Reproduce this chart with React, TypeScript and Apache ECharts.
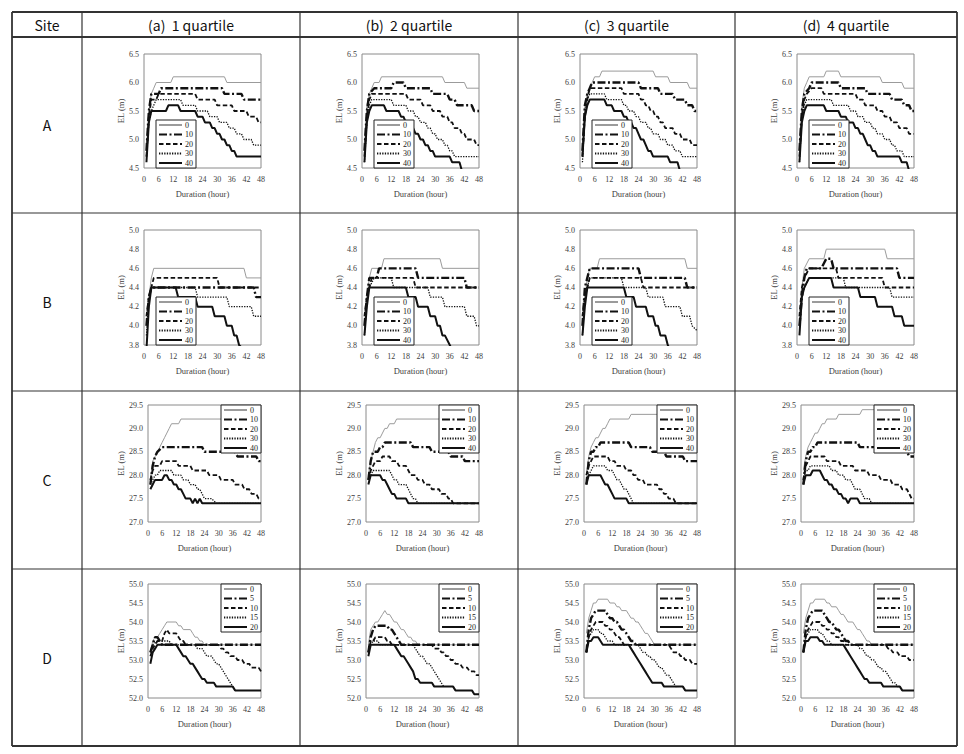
import React, { useEffect, useRef } from 'react';
import * as echarts from 'echarts';

type Pt = [number, number];

// ---- table text ----
const sites = ['A', 'B', 'C', 'D'];
const quartileTitles = ['(a)  1 quartile', '(b)  2 quartile', '(c)  3 quartile', '(d)  4 quartile'];
const levelsABC = ['0', '10', '20', '30', '40'];
const levelsD = ['0', '5', '10', '15', '20'];

// ---- axes ----
const hourMin = 0;
const hourMax = 48;
const hourStep = 6;
const elMin = [4.5, 3.8, 27.0, 52.0];
const elMax = [6.5, 5.0, 29.5, 55.0];
const elStep = [0.5, 0.2, 0.5, 0.5];

// ---- water level series (hour, EL m); five levels per panel ----
const A_q1: Pt[][] = [
  [[1, 4.9], [2, 5.5], [3, 5.8], [4, 5.9], [5, 6.0], [11, 6.0], [12, 6.1], [33, 6.1], [34, 6.0], [48, 6.0]],
  [[1, 4.8], [2, 5.5], [3, 5.8], [6, 5.8], [7, 5.9], [32, 5.9], [33, 5.8], [40, 5.8], [41, 5.7], [48, 5.7]],
  [[1, 4.7], [2, 5.4], [3, 5.7], [5, 5.7], [6, 5.8], [21, 5.8], [22, 5.7], [29, 5.7], [30, 5.6], [36, 5.6], [37, 5.5], [42, 5.5], [43, 5.4], [46, 5.4], [47, 5.3], [48, 5.3]],
  [[1, 4.7], [2, 5.3], [3, 5.5], [4, 5.6], [5, 5.7], [15, 5.7], [16, 5.6], [21, 5.6], [22, 5.5], [26, 5.5], [27, 5.4], [30, 5.4], [31, 5.3], [34, 5.3], [35, 5.2], [37, 5.2], [38, 5.1], [40, 5.1], [41, 5.0], [44, 5.0], [45, 4.9], [48, 4.9]],
  [[1, 4.6], [2, 5.3], [3, 5.5], [9, 5.5], [10, 5.6], [14, 5.6], [15, 5.5], [21, 5.5], [22, 5.4], [24, 5.4], [25, 5.3], [27, 5.3], [28, 5.2], [29, 5.2], [30, 5.1], [31, 5.1], [32, 5.0], [33, 5.0], [34, 4.9], [35, 4.9], [36, 4.8], [37, 4.8], [38, 4.7], [48, 4.7]],
];
const A_q2: Pt[][] = [
  [[1, 4.9], [2, 5.6], [3, 5.8], [4, 5.9], [5, 6.0], [7, 6.0], [8, 6.1], [33, 6.1], [34, 6.0], [42, 6.0], [43, 5.9], [48, 5.9]],
  [[1, 4.8], [2, 5.5], [3, 5.8], [5, 5.9], [12, 5.9], [13, 6.0], [17, 6.0], [18, 5.9], [28, 5.9], [29, 5.8], [35, 5.8], [36, 5.7], [38, 5.7], [39, 5.6], [45, 5.6], [46, 5.5], [48, 5.5]],
  [[1, 4.7], [2, 5.4], [3, 5.7], [4, 5.8], [18, 5.8], [19, 5.7], [24, 5.7], [25, 5.6], [28, 5.6], [29, 5.5], [32, 5.5], [33, 5.4], [35, 5.4], [36, 5.3], [37, 5.3], [38, 5.2], [40, 5.2], [41, 5.1], [42, 5.1], [43, 5.0], [46, 5.0], [47, 4.9], [48, 4.9]],
  [[1, 4.6], [2, 5.3], [3, 5.6], [4, 5.7], [12, 5.7], [13, 5.6], [18, 5.6], [19, 5.5], [21, 5.5], [22, 5.4], [23, 5.4], [24, 5.3], [26, 5.3], [27, 5.2], [28, 5.2], [29, 5.1], [30, 5.1], [31, 5.0], [33, 5.0], [34, 4.9], [35, 4.9], [36, 4.8], [37, 4.8], [38, 4.7], [48, 4.7]],
  [[1, 4.6], [2, 5.3], [3, 5.5], [4, 5.6], [9, 5.6], [10, 5.5], [15, 5.5], [16, 5.4], [17, 5.4], [18, 5.3], [19, 5.3], [20, 5.2], [21, 5.2], [22, 5.1], [23, 5.1], [24, 5.0], [25, 5.0], [26, 4.9], [27, 4.9], [28, 4.8], [29, 4.8], [30, 4.7], [36, 4.7], [37, 4.6], [40, 4.6], [41, 4.45]],
];
const A_q3: Pt[][] = [
  [[1, 4.9], [2, 5.6], [3, 5.8], [4, 5.9], [5, 6.0], [6, 6.1], [8, 6.1], [9, 6.2], [30, 6.2], [31, 6.1], [36, 6.1], [37, 6.0], [44, 6.0], [45, 5.9], [48, 5.9]],
  [[1, 4.8], [2, 5.6], [3, 5.8], [4, 5.9], [5, 6.0], [24, 6.0], [25, 5.9], [32, 5.9], [33, 5.8], [38, 5.8], [39, 5.7], [43, 5.7], [44, 5.6], [46, 5.6], [47, 5.5], [48, 5.5]],
  [[1, 4.7], [2, 5.4], [3, 5.7], [4, 5.9], [17, 5.9], [18, 5.8], [24, 5.8], [25, 5.7], [26, 5.7], [27, 5.6], [28, 5.6], [29, 5.5], [30, 5.5], [31, 5.4], [32, 5.4], [33, 5.3], [34, 5.3], [35, 5.2], [38, 5.2], [39, 5.1], [41, 5.1], [42, 5.0], [45, 5.0], [46, 4.9], [48, 4.9]],
  [[1, 4.6], [2, 5.4], [3, 5.7], [4, 5.8], [10, 5.8], [11, 5.7], [17, 5.7], [18, 5.6], [19, 5.6], [20, 5.5], [22, 5.5], [23, 5.4], [24, 5.4], [25, 5.3], [27, 5.3], [28, 5.2], [29, 5.2], [30, 5.1], [32, 5.1], [33, 5.0], [35, 5.0], [36, 4.9], [38, 4.9], [39, 4.8], [41, 4.8], [42, 4.7], [48, 4.7]],
  [[1, 4.7], [2, 5.4], [3, 5.6], [4, 5.7], [10, 5.7], [11, 5.6], [13, 5.6], [14, 5.5], [17, 5.5], [18, 5.4], [19, 5.4], [20, 5.3], [21, 5.3], [22, 5.2], [23, 5.2], [24, 5.1], [25, 5.0], [26, 5.0], [27, 4.9], [28, 4.8], [29, 4.8], [30, 4.7], [36, 4.7], [37, 4.6], [40, 4.6], [41, 4.45]],
];
const A_q4: Pt[][] = [
  [[1, 4.9], [2, 5.6], [3, 5.9], [4, 6.0], [5, 6.1], [11, 6.1], [12, 6.2], [17, 6.2], [18, 6.1], [34, 6.1], [35, 6.0], [43, 6.0], [44, 5.9], [48, 5.9]],
  [[1, 4.8], [2, 5.5], [3, 5.8], [5, 5.9], [6, 6.0], [17, 6.0], [18, 5.9], [28, 5.9], [29, 5.8], [38, 5.8], [39, 5.7], [43, 5.7], [44, 5.6], [46, 5.6], [47, 5.5], [48, 5.5]],
  [[1, 4.7], [2, 5.4], [3, 5.7], [4, 5.8], [6, 5.9], [10, 5.9], [11, 5.8], [24, 5.8], [25, 5.7], [27, 5.7], [28, 5.6], [32, 5.6], [33, 5.5], [35, 5.5], [36, 5.4], [38, 5.4], [39, 5.3], [41, 5.3], [42, 5.2], [45, 5.2], [46, 5.1], [48, 5.1]],
  [[1, 4.6], [2, 5.4], [3, 5.6], [4, 5.7], [14, 5.7], [15, 5.6], [21, 5.6], [22, 5.5], [24, 5.5], [25, 5.4], [27, 5.4], [28, 5.3], [30, 5.3], [31, 5.2], [32, 5.2], [33, 5.1], [35, 5.1], [36, 5.0], [38, 5.0], [39, 4.9], [40, 4.9], [41, 4.8], [43, 4.8], [44, 4.7], [48, 4.7]],
  [[1, 4.6], [2, 5.3], [3, 5.5], [4, 5.6], [11, 5.6], [12, 5.5], [17, 5.5], [18, 5.4], [20, 5.4], [21, 5.3], [23, 5.3], [24, 5.2], [25, 5.2], [26, 5.1], [27, 5.1], [28, 5.0], [29, 4.9], [30, 4.9], [31, 4.8], [32, 4.8], [33, 4.7], [42, 4.7], [43, 4.6], [45, 4.6], [46, 4.45]],
];

const B_q1: Pt[][] = [
  [[1, 4.1], [2, 4.3], [3, 4.5], [4, 4.6], [41, 4.6], [42, 4.5], [48, 4.5]],
  [[1, 4.0], [2, 4.3], [3, 4.4], [45, 4.4], [46, 4.3], [48, 4.3]],
  [[1, 4.1], [2, 4.3], [3, 4.4], [4, 4.5], [30, 4.5], [31, 4.4], [48, 4.4]],
  [[1, 3.9], [2, 4.3], [3, 4.4], [21, 4.4], [22, 4.3], [34, 4.3], [35, 4.2], [44, 4.2], [45, 4.1], [48, 4.1]],
  [[1, 3.75], [2, 4.2], [3, 4.4], [13, 4.4], [14, 4.3], [21, 4.3], [22, 4.2], [28, 4.2], [29, 4.1], [33, 4.1], [34, 4.0], [36, 4.0], [37, 3.9], [38, 3.9], [39, 3.8], [41, 3.75]],
];
const B_q2: Pt[][] = [
  [[1, 4.1], [2, 4.3], [3, 4.5], [4, 4.6], [8, 4.6], [9, 4.7], [32, 4.7], [33, 4.6], [48, 4.6]],
  [[1, 4.0], [2, 4.3], [3, 4.5], [6, 4.5], [7, 4.6], [22, 4.6], [23, 4.5], [42, 4.5], [43, 4.4], [48, 4.4]],
  [[1, 4.1], [2, 4.3], [3, 4.4], [4, 4.5], [21, 4.5], [22, 4.4], [48, 4.4]],
  [[1, 3.9], [2, 4.3], [3, 4.4], [5, 4.5], [12, 4.5], [13, 4.4], [27, 4.4], [28, 4.3], [33, 4.3], [34, 4.2], [42, 4.2], [43, 4.1], [46, 4.1], [47, 4.0], [48, 4.0]],
  [[1, 3.9], [2, 4.2], [3, 4.4], [18, 4.4], [19, 4.3], [22, 4.3], [23, 4.2], [27, 4.2], [28, 4.1], [30, 4.1], [31, 4.0], [32, 4.0], [33, 3.9], [34, 3.9], [36, 3.8], [37, 3.75]],
];
const B_q3: Pt[][] = [
  [[1, 4.1], [2, 4.3], [3, 4.5], [4, 4.6], [7, 4.6], [8, 4.7], [43, 4.7], [44, 4.6], [48, 4.6]],
  [[1, 4.0], [2, 4.4], [3, 4.5], [4, 4.6], [24, 4.6], [25, 4.5], [43, 4.5], [44, 4.4], [48, 4.4]],
  [[1, 4.1], [2, 4.3], [3, 4.4], [4, 4.5], [25, 4.5], [26, 4.4], [48, 4.4]],
  [[1, 3.9], [2, 4.3], [3, 4.4], [4, 4.5], [17, 4.5], [18, 4.4], [27, 4.4], [28, 4.3], [34, 4.3], [35, 4.2], [41, 4.2], [42, 4.1], [45, 4.1], [46, 4.0], [48, 3.95]],
  [[1, 3.9], [2, 4.2], [3, 4.4], [18, 4.4], [19, 4.3], [22, 4.3], [23, 4.2], [27, 4.2], [28, 4.1], [30, 4.1], [31, 4.0], [32, 4.0], [33, 3.9], [35, 3.9], [36, 3.8], [37, 3.75]],
];
const B_q4: Pt[][] = [
  [[1, 4.1], [2, 4.4], [3, 4.6], [5, 4.7], [11, 4.7], [12, 4.8], [36, 4.8], [37, 4.7], [48, 4.7]],
  [[1, 4.0], [2, 4.3], [3, 4.5], [4, 4.6], [10, 4.6], [12, 4.7], [14, 4.7], [15, 4.6], [41, 4.6], [42, 4.5], [48, 4.5]],
  [[1, 4.1], [2, 4.4], [3, 4.5], [5, 4.6], [16, 4.6], [17, 4.5], [35, 4.5], [36, 4.4], [48, 4.4]],
  [[1, 4.0], [2, 4.3], [3, 4.4], [5, 4.5], [19, 4.5], [20, 4.4], [38, 4.4], [39, 4.3], [48, 4.3]],
  [[1, 3.9], [2, 4.3], [3, 4.4], [5, 4.5], [14, 4.5], [15, 4.4], [25, 4.4], [26, 4.3], [32, 4.3], [33, 4.2], [39, 4.2], [40, 4.1], [43, 4.1], [44, 4.0], [48, 4.0]],
];

const C_q1: Pt[][] = [
  [[1, 27.9], [2, 28.3], [3, 28.4], [4, 28.5], [5, 28.6], [6, 28.7], [7, 28.8], [8, 28.9], [9, 29.0], [10, 29.1], [13, 29.1], [14, 29.2], [48, 29.2]],
  [[1, 27.8], [2, 28.2], [3, 28.4], [4, 28.5], [6, 28.6], [23, 28.6], [24, 28.5], [37, 28.5], [38, 28.4], [46, 28.4], [47, 28.3], [48, 28.3]],
  [[1, 27.9], [2, 28.1], [3, 28.2], [5, 28.2], [6, 28.3], [12, 28.3], [13, 28.2], [18, 28.2], [19, 28.1], [25, 28.1], [26, 28.0], [30, 28.0], [31, 27.9], [36, 27.9], [37, 27.8], [40, 27.8], [41, 27.7], [43, 27.7], [44, 27.6], [46, 27.6], [47, 27.5], [48, 27.5]],
  [[1, 27.8], [2, 27.9], [3, 28.0], [4, 28.0], [5, 28.1], [10, 28.1], [11, 28.0], [14, 28.0], [15, 27.9], [17, 27.9], [18, 27.8], [20, 27.8], [21, 27.7], [22, 27.7], [23, 27.6], [24, 27.5], [27, 27.5], [29, 27.4], [48, 27.4]],
  [[1, 27.7], [2, 27.8], [3, 27.9], [6, 27.9], [7, 28.0], [8, 28.0], [9, 27.9], [10, 27.9], [11, 27.8], [12, 27.8], [13, 27.7], [14, 27.7], [15, 27.6], [16, 27.5], [18, 27.5], [19, 27.4], [20, 27.5], [21, 27.4], [22, 27.5], [23, 27.4], [48, 27.4]],
];
const C_q2: Pt[][] = [
  [[1, 28.0], [2, 28.3], [3, 28.5], [4, 28.7], [5, 28.8], [6, 28.8], [7, 28.9], [8, 29.0], [9, 29.0], [10, 29.1], [12, 29.1], [13, 29.2], [48, 29.2]],
  [[1, 27.9], [2, 28.3], [3, 28.5], [5, 28.5], [6, 28.6], [7, 28.6], [8, 28.7], [19, 28.7], [20, 28.6], [27, 28.6], [28, 28.5], [35, 28.5], [36, 28.4], [41, 28.4], [42, 28.3], [48, 28.3]],
  [[1, 27.9], [2, 28.1], [3, 28.2], [4, 28.3], [6, 28.3], [7, 28.4], [10, 28.4], [11, 28.3], [13, 28.3], [14, 28.2], [17, 28.2], [18, 28.1], [19, 28.0], [21, 28.0], [22, 27.9], [24, 27.9], [25, 27.8], [27, 27.8], [28, 27.7], [31, 27.7], [32, 27.6], [34, 27.6], [35, 27.5], [36, 27.5], [37, 27.4], [48, 27.4]],
  [[1, 27.9], [2, 28.0], [3, 28.1], [10, 28.1], [11, 28.0], [12, 27.9], [13, 27.9], [14, 27.8], [17, 27.8], [18, 27.7], [19, 27.6], [20, 27.5], [21, 27.5], [22, 27.4], [48, 27.4]],
  [[1, 27.8], [2, 28.0], [6, 28.0], [7, 27.9], [8, 27.9], [9, 27.8], [10, 27.7], [11, 27.6], [12, 27.6], [13, 27.5], [17, 27.5], [18, 27.4], [48, 27.4]],
];
const C_q3: Pt[][] = [
  [[1, 28.0], [2, 28.4], [3, 28.6], [4, 28.7], [5, 28.8], [6, 28.8], [7, 28.9], [8, 29.0], [9, 29.0], [10, 29.1], [11, 29.2], [19, 29.2], [20, 29.3], [48, 29.3]],
  [[1, 27.8], [2, 28.3], [3, 28.5], [4, 28.5], [5, 28.6], [6, 28.6], [7, 28.7], [19, 28.7], [20, 28.6], [28, 28.6], [29, 28.5], [34, 28.5], [35, 28.4], [42, 28.4], [43, 28.3], [48, 28.3]],
  [[1, 28.0], [2, 28.2], [3, 28.3], [4, 28.4], [10, 28.4], [11, 28.3], [13, 28.3], [14, 28.2], [17, 28.2], [18, 28.1], [20, 28.1], [21, 28.0], [22, 28.0], [23, 27.9], [25, 27.9], [26, 27.8], [31, 27.8], [32, 27.7], [33, 27.7], [34, 27.6], [35, 27.6], [36, 27.5], [38, 27.5], [39, 27.4], [48, 27.4]],
  [[1, 27.9], [2, 28.0], [3, 28.1], [4, 28.2], [9, 28.2], [10, 28.1], [12, 28.1], [13, 28.0], [14, 27.9], [15, 27.9], [16, 27.8], [17, 27.7], [18, 27.7], [19, 27.6], [20, 27.5], [21, 27.4], [48, 27.4]],
  [[1, 27.8], [2, 28.0], [7, 28.0], [8, 27.9], [9, 27.8], [10, 27.8], [11, 27.7], [12, 27.6], [13, 27.5], [18, 27.5], [19, 27.4], [48, 27.4]],
];
const C_q4: Pt[][] = [
  [[1, 28.1], [2, 28.4], [3, 28.6], [4, 28.7], [5, 28.8], [6, 28.9], [7, 28.9], [8, 29.0], [9, 29.1], [10, 29.1], [11, 29.2], [15, 29.2], [16, 29.3], [25, 29.3], [26, 29.4], [48, 29.4]],
  [[1, 27.8], [2, 28.3], [3, 28.5], [4, 28.5], [5, 28.6], [6, 28.6], [7, 28.7], [24, 28.7], [25, 28.6], [35, 28.6], [36, 28.5], [45, 28.5], [46, 28.4], [48, 28.4]],
  [[1, 27.9], [2, 28.2], [3, 28.3], [4, 28.4], [10, 28.4], [11, 28.3], [16, 28.3], [17, 28.2], [22, 28.2], [23, 28.1], [28, 28.1], [29, 28.0], [33, 28.0], [34, 27.9], [38, 27.9], [39, 27.8], [42, 27.8], [43, 27.7], [45, 27.7], [46, 27.6], [47, 27.5], [48, 27.5]],
  [[1, 27.9], [2, 28.1], [3, 28.1], [4, 28.2], [12, 28.2], [13, 28.1], [15, 28.1], [16, 28.0], [18, 28.0], [19, 27.9], [21, 27.9], [22, 27.8], [23, 27.7], [25, 27.7], [26, 27.6], [27, 27.5], [29, 27.5], [30, 27.4], [48, 27.4]],
  [[1, 27.8], [2, 28.0], [4, 28.0], [5, 28.1], [8, 28.1], [9, 28.0], [10, 27.9], [11, 27.9], [12, 27.8], [13, 27.8], [14, 27.7], [15, 27.7], [16, 27.6], [17, 27.6], [18, 27.5], [19, 27.5], [20, 27.4], [21, 27.5], [24, 27.5], [25, 27.4], [48, 27.4]],
];

const D_q1: Pt[][] = [
  [[1, 53.2], [2, 53.5], [3, 53.6], [4, 53.6], [5, 53.7], [6, 53.8], [7, 53.9], [8, 54.0], [12, 54.0], [13, 53.9], [14, 53.9], [15, 53.8], [18, 53.8], [19, 53.7], [20, 53.6], [21, 53.6], [22, 53.5], [23, 53.5], [24, 53.4], [48, 53.4]],
  [[1, 53.2], [2, 53.4], [3, 53.6], [4, 53.6], [5, 53.5], [6, 53.4], [48, 53.4]],
  [[1, 53.1], [2, 53.3], [3, 53.4], [4, 53.5], [6, 53.5], [7, 53.7], [8, 53.8], [9, 53.7], [12, 53.7], [13, 53.6], [14, 53.5], [15, 53.5], [16, 53.4], [30, 53.4], [31, 53.3], [32, 53.3], [33, 53.2], [34, 53.2], [35, 53.1], [37, 53.1], [38, 53.0], [40, 53.0], [41, 52.9], [43, 52.9], [44, 52.8], [47, 52.8], [48, 52.7]],
  [[1, 53.2], [2, 53.4], [4, 53.5], [9, 53.5], [10, 53.4], [20, 53.4], [21, 53.3], [23, 53.3], [24, 53.2], [25, 53.1], [27, 53.1], [28, 53.0], [29, 52.9], [30, 52.9], [31, 52.8], [32, 52.7], [33, 52.6], [34, 52.5], [35, 52.4], [36, 52.3]],
  [[1, 52.9], [2, 53.2], [3, 53.3], [4, 53.4], [12, 53.4], [13, 53.3], [14, 53.2], [15, 53.1], [16, 53.1], [17, 53.0], [18, 52.9], [19, 52.9], [20, 52.8], [21, 52.7], [22, 52.6], [23, 52.5], [24, 52.5], [25, 52.4], [28, 52.4], [29, 52.3], [36, 52.3], [37, 52.2], [48, 52.2]],
];
const D_q2: Pt[][] = [
  [[1, 53.4], [2, 53.8], [3, 53.9], [4, 54.0], [5, 54.0], [6, 54.1], [7, 54.2], [8, 54.3], [9, 54.2], [10, 54.2], [11, 54.1], [12, 54.0], [13, 54.0], [14, 53.9], [15, 53.8], [16, 53.8], [17, 53.7], [18, 53.6], [19, 53.6], [20, 53.5], [21, 53.5], [22, 53.4], [48, 53.4]],
  [[1, 53.2], [2, 53.6], [3, 53.8], [4, 53.9], [9, 53.9], [10, 53.8], [11, 53.8], [12, 53.7], [13, 53.6], [14, 53.5], [15, 53.4], [48, 53.4]],
  [[1, 53.2], [2, 53.5], [3, 53.5], [4, 53.6], [8, 53.6], [9, 53.5], [10, 53.5], [11, 53.4], [28, 53.4], [29, 53.3], [31, 53.3], [32, 53.2], [33, 53.2], [34, 53.1], [35, 53.1], [36, 53.0], [37, 53.0], [38, 52.9], [40, 52.9], [41, 52.8], [43, 52.8], [44, 52.7], [46, 52.7], [47, 52.6], [48, 52.6]],
  [[1, 53.2], [2, 53.4], [3, 53.5], [5, 53.5], [6, 53.4], [20, 53.4], [21, 53.3], [22, 53.2], [23, 53.1], [24, 53.1], [25, 53.0], [26, 52.9], [27, 52.9], [28, 52.8], [29, 52.7], [30, 52.6], [31, 52.5], [32, 52.4], [33, 52.3]],
  [[1, 53.1], [2, 53.4], [12, 53.4], [13, 53.3], [14, 53.2], [15, 53.1], [16, 53.1], [17, 53.0], [18, 52.9], [19, 52.8], [20, 52.7], [21, 52.5], [22, 52.5], [23, 52.4], [28, 52.4], [29, 52.3], [37, 52.3], [38, 52.2], [45, 52.2], [46, 52.1], [48, 52.1]],
];
const D_q3: Pt[][] = [
  [[1, 53.7], [2, 54.1], [3, 54.3], [4, 54.5], [5, 54.5], [6, 54.6], [10, 54.6], [11, 54.5], [13, 54.5], [14, 54.4], [15, 54.4], [16, 54.3], [18, 54.3], [19, 54.2], [20, 54.1], [21, 54.1], [22, 54.0], [23, 54.0], [24, 53.9], [25, 53.8], [26, 53.7], [27, 53.7], [28, 53.6], [29, 53.5], [30, 53.4], [48, 53.4]],
  [[1, 53.2], [2, 53.8], [3, 54.1], [4, 54.2], [5, 54.3], [9, 54.3], [10, 54.2], [11, 54.1], [12, 54.1], [13, 54.0], [14, 54.0], [15, 53.9], [16, 53.8], [17, 53.8], [18, 53.7], [19, 53.6], [20, 53.5], [21, 53.5], [22, 53.4], [48, 53.4]],
  [[1, 53.2], [2, 53.6], [3, 53.8], [4, 53.9], [5, 54.0], [8, 54.0], [9, 53.9], [10, 53.9], [11, 53.8], [12, 53.8], [13, 53.7], [14, 53.6], [15, 53.6], [16, 53.5], [17, 53.4], [36, 53.4], [37, 53.3], [38, 53.2], [40, 53.2], [41, 53.1], [42, 53.1], [43, 53.0], [45, 53.0], [46, 52.9], [48, 52.9]],
  [[1, 53.2], [2, 53.6], [3, 53.7], [4, 53.8], [6, 53.8], [7, 53.7], [8, 53.7], [9, 53.6], [10, 53.5], [12, 53.5], [13, 53.4], [23, 53.4], [24, 53.3], [25, 53.2], [26, 53.2], [27, 53.1], [28, 53.1], [29, 53.0], [30, 53.0], [31, 52.9], [32, 52.8], [33, 52.8], [34, 52.7], [35, 52.6], [36, 52.6], [37, 52.5], [38, 52.4], [39, 52.3], [40, 52.3]],
  [[1, 53.2], [2, 53.5], [3, 53.5], [4, 53.6], [6, 53.6], [7, 53.5], [8, 53.4], [19, 53.4], [20, 53.3], [21, 53.2], [22, 53.1], [23, 53.0], [24, 52.9], [25, 52.8], [26, 52.7], [27, 52.6], [28, 52.5], [29, 52.4], [33, 52.4], [34, 52.3], [42, 52.3], [43, 52.2], [48, 52.2]],
];
const D_q4: Pt[][] = [
  [[1, 53.7], [2, 54.1], [3, 54.3], [4, 54.5], [5, 54.5], [6, 54.6], [10, 54.6], [11, 54.5], [12, 54.5], [13, 54.4], [15, 54.4], [16, 54.3], [17, 54.2], [18, 54.2], [19, 54.1], [20, 54.0], [22, 54.0], [23, 53.9], [24, 53.8], [25, 53.8], [26, 53.7], [27, 53.6], [28, 53.5], [29, 53.5], [30, 53.4], [48, 53.4]],
  [[1, 53.2], [2, 53.8], [3, 54.1], [4, 54.2], [5, 54.3], [9, 54.3], [10, 54.2], [11, 54.1], [12, 54.0], [13, 54.0], [14, 53.9], [15, 53.8], [16, 53.8], [17, 53.7], [18, 53.6], [19, 53.5], [20, 53.5], [21, 53.4], [48, 53.4]],
  [[1, 53.2], [2, 53.6], [3, 53.8], [4, 53.9], [5, 54.0], [8, 54.0], [9, 53.9], [10, 53.9], [11, 53.8], [12, 53.8], [13, 53.7], [14, 53.7], [15, 53.6], [16, 53.6], [17, 53.5], [18, 53.5], [19, 53.4], [36, 53.4], [37, 53.3], [38, 53.3], [39, 53.2], [41, 53.2], [42, 53.1], [45, 53.1], [46, 53.0], [48, 53.0]],
  [[1, 53.2], [2, 53.6], [3, 53.7], [4, 53.8], [7, 53.8], [8, 53.7], [9, 53.7], [10, 53.6], [11, 53.5], [12, 53.5], [13, 53.4], [24, 53.4], [25, 53.3], [26, 53.3], [27, 53.2], [28, 53.1], [29, 53.1], [30, 53.0], [31, 53.0], [32, 52.9], [33, 52.8], [34, 52.8], [35, 52.7], [36, 52.7], [37, 52.6], [38, 52.5], [39, 52.4], [40, 52.4], [41, 52.3], [42, 52.3]],
  [[1, 53.2], [2, 53.5], [3, 53.5], [4, 53.6], [7, 53.6], [8, 53.5], [9, 53.5], [10, 53.4], [18, 53.4], [19, 53.3], [20, 53.2], [21, 53.1], [22, 53.0], [23, 52.9], [24, 52.8], [25, 52.7], [26, 52.6], [27, 52.5], [28, 52.5], [29, 52.4], [34, 52.4], [35, 52.3], [42, 52.3], [43, 52.2], [48, 52.2]],
];

const panels: Pt[][][][] = [
  [A_q1, A_q2, A_q3, A_q4],
  [B_q1, B_q2, B_q3, B_q4],
  [C_q1, C_q2, C_q3, C_q4],
  [D_q1, D_q2, D_q3, D_q4],
];

// ---- layout ----
const W = 964;
const H = 754;
const colLines = [12, 82, 300, 518, 735, 957];
const rowLines = [12, 37, 213, 391, 569, 746];
const plotTop = [54, 230, 405, 584];
const plotHeight = [114, 115, 117, 114];
const plotLeftOffset = [62, 62, 66, 66];
const plotRightOffset = 179;

const SERIF = '"Liberation Serif", "Times New Roman", serif';
const SANS = '"Noto Sans CJK KR", "Noto Sans", sans-serif';
const INK = '#404040';

const lineStyles = [
  { color: '#9b9b9b', width: 1, type: 'solid' as any },
  { color: '#111', width: 2.4, type: [8, 2.5, 2, 2.5] },
  { color: '#111', width: 1.8, type: [4.5, 2.5] },
  { color: '#111', width: 1.3, type: [1.3, 1.3] },
  { color: '#111', width: 2, type: 'solid' as any },
];

function buildOption() {
  const grid: any[] = [];
  const xAxis: any[] = [];
  const yAxis: any[] = [];
  const series: any[] = [];
  const legend: any[] = [];
  const graphic: any[] = [];

  for (let r = 0; r < 4; r++) {
    for (let c = 0; c < 4; c++) {
      const idx = r * 4 + c;
      const left = colLines[c + 1] + plotLeftOffset[r];
      const right = colLines[c + 1] + plotRightOffset;
      const top = plotTop[r];
      const height = plotHeight[r];
      grid.push({
        left, top, width: right - left, height,
        show: true, borderColor: '#8a8a8a', borderWidth: 1, backgroundColor: 'transparent',
        containLabel: false,
      });
      xAxis.push({
        type: 'value', gridIndex: idx, min: hourMin, max: hourMax, interval: hourStep,
        axisLine: { show: false }, axisTick: { show: false }, splitLine: { show: false },
        axisLabel: { fontSize: 8, color: INK, fontFamily: SERIF, margin: 7 },
        name: 'Duration (hour)', nameLocation: 'middle', nameGap: 21,
        nameTextStyle: { fontSize: 8.5, color: INK, fontFamily: SERIF },
      });
      yAxis.push({
        type: 'value', gridIndex: idx, min: elMin[r], max: elMax[r], interval: elStep[r],
        axisLine: { show: false }, axisTick: { show: false }, splitLine: { show: false },
        axisLabel: { fontSize: 8, color: INK, fontFamily: SERIF, margin: 5, formatter: (v: number) => v.toFixed(1) },
        name: 'EL (m)', nameLocation: 'middle', nameGap: r < 2 ? 18 : 22, nameRotate: 90,
        nameTextStyle: { fontSize: 8.5, color: INK, fontFamily: SERIF },
      });
      const levels = r === 3 ? levelsD : levelsABC;
      const names: string[] = [];
      panels[r][c].forEach((pts, k) => {
        const name = `${sites[r]}${c + 1}|${levels[k]}`;
        names.push(name);
        series.push({
          type: 'line', name, xAxisIndex: idx, yAxisIndex: idx, data: pts,
          symbol: 'none', silent: true, clip: true,
          lineStyle: { ...lineStyles[k] },
          z: 2 + k,
        });
      });
      const leg: any = {
        orient: 'vertical', data: names, selectedMode: false,
        formatter: (n: string) => n.split('|')[1],
        itemWidth: 23, itemHeight: 7, itemGap: 1.5, padding: [1, 3, 1, 2],
        backgroundColor: '#fff', borderColor: '#222', borderWidth: 1, borderRadius: 0,
        textStyle: { fontSize: 8, fontFamily: SERIF, color: '#222', lineHeight: 8, padding: [0, 0, 0, -2] },
        itemStyle: { opacity: 0, borderWidth: 0 },
        z: 10,
      };
      if (r < 2) {
        leg.left = left + 12;
        leg.bottom = H - (top + height);
      } else {
        leg.right = W - right;
        leg.top = top;
      }
      legend.push(leg);
    }
  }

  // table rules
  const stroke = '#333';
  rowLines.forEach((y, i) => {
    const outer = i === 0 || i === rowLines.length - 1;
    graphic.push({
      type: 'line', silent: true, z: 20,
      shape: { x1: colLines[0], y1: y, x2: colLines[colLines.length - 1], y2: y },
      style: { stroke, lineWidth: outer || i === 1 ? 1.8 : 1.2 },
    });
  });
  colLines.forEach((x, i) => {
    const outer = i === 0 || i === colLines.length - 1;
    graphic.push({
      type: 'line', silent: true, z: 20,
      shape: { x1: x, y1: rowLines[0], x2: x, y2: rowLines[rowLines.length - 1] },
      style: { stroke, lineWidth: outer ? 1.8 : 1.2 },
    });
  });
  // header row
  const headY = (rowLines[0] + rowLines[1]) / 2;
  graphic.push({
    type: 'text', silent: true, z: 20, x: (colLines[0] + colLines[1]) / 2, y: headY,
    style: { text: 'Site', fontSize: 14, fontFamily: SANS, fill: '#111', align: 'center', verticalAlign: 'middle' },
  });
  quartileTitles.forEach((t, c) => {
    graphic.push({
      type: 'text', silent: true, z: 20, x: (colLines[c + 1] + colLines[c + 2]) / 2, y: headY,
      style: { text: t, fontSize: 14, fontFamily: SANS, fill: '#111', align: 'center', verticalAlign: 'middle' },
    });
  });
  sites.forEach((s, r) => {
    graphic.push({
      type: 'text', silent: true, z: 20, x: (colLines[0] + colLines[1]) / 2, y: (rowLines[r + 1] + rowLines[r + 2]) / 2,
      style: { text: s, fontSize: 14, fontFamily: SANS, fill: '#111', align: 'center', verticalAlign: 'middle' },
    });
  });

  return {
    animation: false,
    backgroundColor: '#fff',
    grid, xAxis, yAxis, series, legend, graphic,
  };
}

export default function App() {
  const ref = useRef<HTMLDivElement>(null);
  useEffect(() => {
    if (!ref.current) return;
    const chart = echarts.init(ref.current, undefined, { renderer: 'svg' });
    chart.setOption(buildOption() as any);
    return () => chart.dispose();
  }, []);
  return (
    <div
      ref={ref}
      style={{ position: 'absolute', left: 0, top: 0, width: W, height: H, background: '#fff' }}
    />
  );
}
